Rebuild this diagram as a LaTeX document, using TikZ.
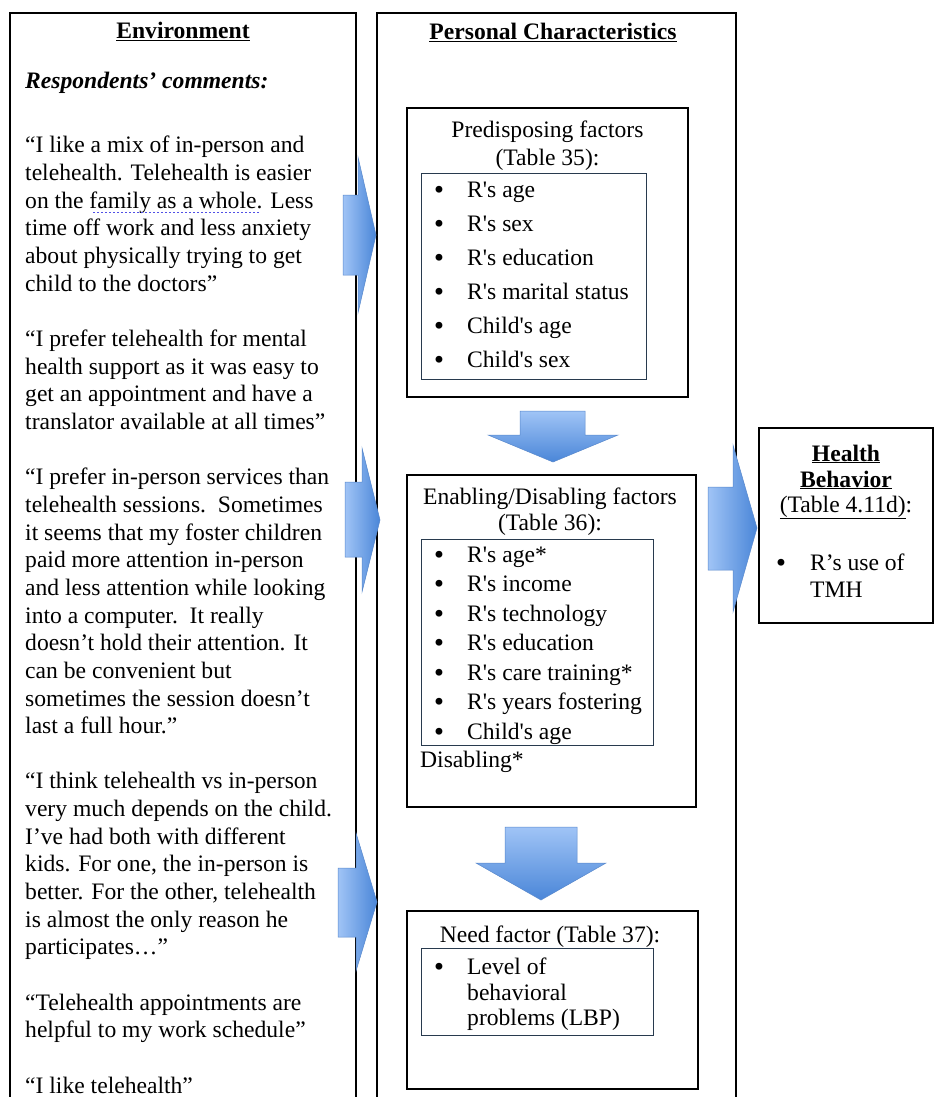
\documentclass[tikz,border=0pt]{standalone}
\usepackage{fontspec}
\setmainfont{Liberation Serif}[Ligatures=TeXOff]
\newfontfamily\bulfont{DejaVu Sans}
\definecolor{arrowlight}{RGB}{160,196,246}
\definecolor{arrowdark}{RGB}{74,134,216}
\definecolor{arrowedge}{RGB}{88,136,204}
\definecolor{listedge}{RGB}{40,58,78}
\definecolor{spellblue}{RGB}{80,80,230}
\newcommand\mybul{\raisebox{-1pt}{\bulfont •}}
\begin{document}
\begin{tikzpicture}[x=1pt,y=-1pt,
  txt/.style={inner sep=0pt, font=\fontsize{23.6}{27.65}\selectfont},
  outerline/.style={draw=black, line width=1.4pt},
  factorbox/.style={draw=black, line width=1.2pt, inner sep=0pt},
  listbox/.style={draw=listedge, line width=0.9pt, inner sep=0pt},
  blockarrow/.style={draw=arrowedge, line width=0.5pt},
  rightshade/.style={left color=arrowlight, right color=arrowdark},
  downshade/.style={top color=arrowlight, bottom color=arrowdark}]
\useasboundingbox (0,0) rectangle (935,1097);
\fill[white] (0,0) rectangle (935,1097);

% ---------- outer columns ----------
\draw[outerline] (10,1100) -- (10,13) -- (356,13) -- (356,1100);
\draw[outerline] (377,1100) -- (377,13) -- (736,13) -- (736,1100);

% ---------- Environment column ----------
\node[txt, anchor=base] (envtitle) at (183,39) {\bfseries\underline{Environment}};
\node[txt, anchor=base west] (resp) at (25,89) {\bfseries\itshape Respondents’ comments:};
\foreach \t [count=\i from 0] in {
 {“I like a mix of in-person and},
 {telehealth. Telehealth is easier},
 {on the family as a whole. Less},
 {time off work and less anxiety},
 {about physically trying to get},
 {child to the doctors”},
 {},
 {“I prefer telehealth for mental},
 {health support as it was easy to},
 {get an appointment and have a},
 {translator available at all times”},
 {},
 {“I prefer in-person services than},
 {telehealth sessions.\ \ Sometimes},
 {it seems that my foster children},
 {paid more attention in-person},
 {and less attention while looking},
 {into a computer.\ \ It really},
 {doesn’t hold their attention. It},
 {can be convenient but},
 {sometimes the session doesn’t},
 {last a full hour.”},
 {},
 {“I think telehealth vs in-person},
 {very much depends on the child.},
 {I’ve had both with different},
 {kids. For one, the in-person is},
 {better. For the other, telehealth},
 {is almost the only reason he},
 {participates…”},
 {},
 {“Telehealth appointments are},
 {helpful to my work schedule”},
 {},
 {“I like telehealth”}}
{\node[txt, anchor=base west] (env\i) at (25,153+27.65*\i) {\t};}
\draw[spellblue, line width=1pt, dash pattern=on 2pt off 2pt] (93,212) -- (260,212);

% ---------- Personal characteristics column ----------
\node[txt, anchor=base] (pctitle) at (553,40) {\bfseries\underline{Personal Characteristics}};

% Predisposing
\node[factorbox, minimum width=281pt, minimum height=289pt] (pred) at (547.5,252.5) {};
\node[listbox, minimum width=225pt, minimum height=206pt] (predlist) at (533.5,276) {};
\node[txt, anchor=base] (predt1) at (547.5,138) {Predisposing factors};
\node[txt, anchor=base] (predt2) at (547.5,165) {(Table 35):};
\foreach \t [count=\i from 0] in {R's age, R's sex, R's education, R's marital status, Child's age, Child's sex}
{\node[txt, anchor=base west] (pi\i) at (432,197+34*\i) {\makebox[35pt][l]{\mybul}\t};}

% Enabling
\node[factorbox, minimum width=289pt, minimum height=332pt] (enab) at (551.5,641) {};
\node[listbox, minimum width=232pt, minimum height=206pt] (enablist) at (537,642) {};
\node[txt, anchor=base] (enabt1) at (550,504) {Enabling/Disabling factors};
\node[txt, anchor=base] (enabt2) at (550,530) {(Table 36):};
\foreach \t [count=\i from 0] in {R's age*, R's income, R's technology, R's education, R's care training*, R's years fostering, Child's age}
{\node[txt, anchor=base west] (ei\i) at (432,562+29.5*\i) {\makebox[35pt][l]{\mybul}\t};}
\node[txt, anchor=base west] (disab) at (420,767) {Disabling*};

% Need
\node[factorbox, minimum width=291pt, minimum height=178pt] (need) at (552.5,1000) {};
\node[listbox, minimum width=232pt, minimum height=87pt] (needlist) at (537,991.5) {};
\node[txt, anchor=base] (needt) at (550,942) {Need factor (Table 37):};
\node[txt, anchor=base west] (ni0) at (432,974) {\makebox[35pt][l]{\mybul}Level of};
\node[txt, anchor=base west] (ni1) at (467,1000) {behavioral};
\node[txt, anchor=base west] (ni2) at (467,1025) {problems (LBP)};

% ---------- Health behavior ----------
\node[factorbox, minimum width=174pt, minimum height=195pt] (hb) at (846,525.5) {};
\node[txt, anchor=base] (hbt1) at (846,461) {\bfseries\underline{Health}};
\node[txt, anchor=base] (hbt2) at (846,487) {\bfseries\underline{Behavior}};
\node[txt, anchor=base] (hbt3) at (846,512) {\underline{(Table 4.11d)}:};
\node[txt, anchor=base west] (hbi0) at (774,570) {\makebox[36pt][l]{\mybul}R’s use of};
\node[txt, anchor=base west] (hbi1) at (810,597) {TMH};

% ---------- block arrows ----------
\path[blockarrow, rightshade] (343,195) -- (358,195) -- (358,157) -- (376,235) -- (358,313) -- (358,275) -- (343,275) -- cycle;
\path[blockarrow, rightshade] (345,482) -- (362,482) -- (362,448) -- (380,520) -- (362,592) -- (362,557) -- (345,557) -- cycle;
\path[blockarrow, rightshade] (338,868) -- (356,868) -- (356,833) -- (377,902) -- (356,971) -- (356,937) -- (338,937) -- cycle;
\path[blockarrow, rightshade] (708,487) -- (733,487) -- (733,445) -- (757,528) -- (733,612) -- (733,570) -- (708,570) -- cycle;
\path[blockarrow, downshade] (520,411) -- (585,411) -- (585,435) -- (618,435) -- (553,462) -- (488,435) -- (520,435) -- cycle;
\path[blockarrow, downshade] (505,827) -- (577,827) -- (577,863) -- (606,863) -- (541,900) -- (476,863) -- (505,863) -- cycle;
\end{tikzpicture}
\end{document}
